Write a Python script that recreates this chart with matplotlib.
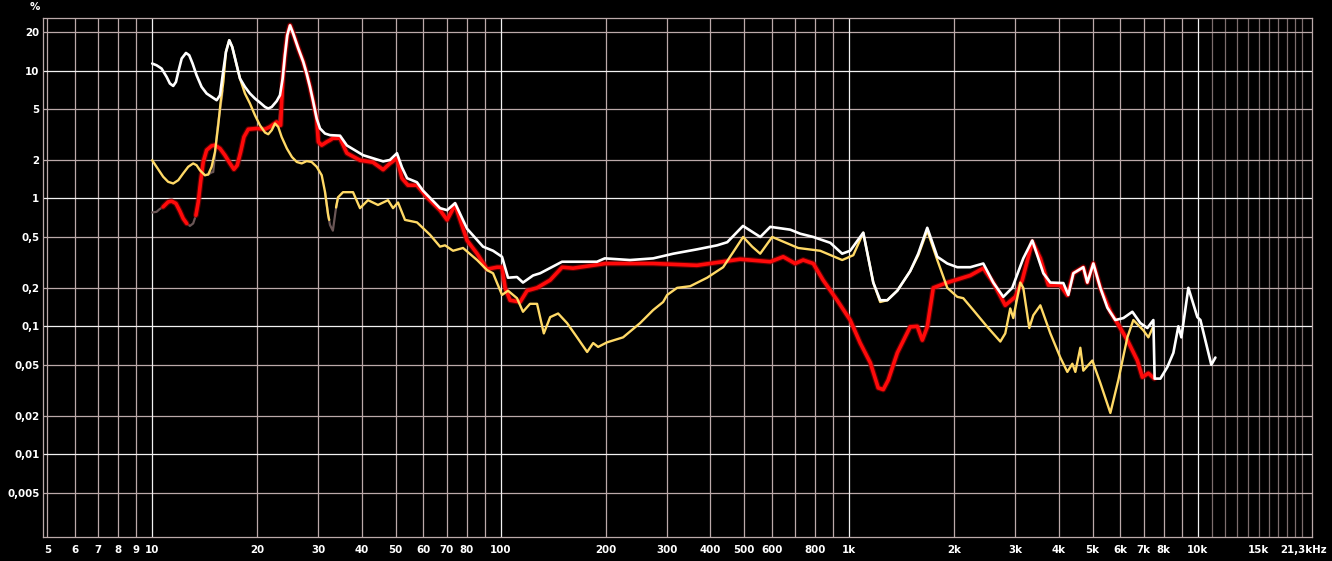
import numpy as np
import matplotlib.pyplot as plt
from matplotlib.ticker import NullLocator
from matplotlib.transforms import ScaledTranslation

nan = np.nan

# white curve (total)
white_f = [10.0, 10.29, 10.64, 11.0, 11.24, 11.49, 11.70, 11.88, 12.15, 12.5,
           12.77, 13.06, 13.41, 13.86, 14.33, 14.81, 15.31, 15.65, 15.93, 16.28,
           16.64, 16.97, 17.39, 17.86, 18.46, 19.08, 19.72, 20.38, 21.07, 21.53,
           22.03, 22.76, 23.26, 23.68, 24.04, 24.41, 24.86, 25.39, 26.26, 27.14,
           27.75, 28.37, 28.99, 29.65, 30.31, 31.32, 32.38,
           34.6, 36.2, 40.3, 46.0, 48.1, 50.4, 52.1, 53.9, 57.5, 59.9, 67.0, 70.2, 74.0, 80.1, 89.0,
           95.1, 100.9, 105.0, 111.4, 115.9, 123.9, 129.8, 150, 189, 199, 235, 274, 313, 366, 418,
           447, 496, 556, 594, 678, 724, 789, 883, 955, 1007, 1098, 1173, 1228, 1287, 1375, 1497,
           1579, 1676, 1791, 1913, 2044, 2227, 2427, 2593, 2770, 2939, 3161, 3355, 3609, 3780,
           4119, 4257, 4400, 4700, 4826, 5022, 5260, 5509, 5808, 6124, 6499, 6852, 7177, 7466,
           7530, 7821, 8190, 8522, 8808, 8984, 9410, 9987, 10190, 10950, 11250]
white_v = [11.36, 11.02, 10.38, 8.93, 7.93, 7.59, 8.16, 9.77, 12.43, 13.75,
           13.2, 11.36, 9.2, 7.46, 6.62, 6.23, 5.87, 6.42, 9.2, 14.0,
           17.29, 15.32, 11.7, 8.68, 7.46, 6.62, 6.05, 5.63, 5.2, 5.05,
           5.2, 5.77, 6.42, 8.68, 13.2, 18.9, 22.6, 19.5, 14.9, 11.7,
           9.49, 7.46, 5.69, 4.22, 3.53, 3.22, 3.13,
           3.1, 2.6, 2.18, 1.95, 2.0, 2.26, 1.75, 1.44, 1.34, 1.15, 0.84, 0.81, 0.92, 0.58, 0.42,
           0.39, 0.35, 0.24, 0.243, 0.22, 0.25, 0.26, 0.32, 0.32, 0.34, 0.33, 0.34, 0.37, 0.40, 0.43,
           0.455, 0.61, 0.50, 0.60, 0.57, 0.53, 0.50, 0.45, 0.37, 0.39, 0.54, 0.22, 0.16, 0.16, 0.19, 0.27,
           0.37, 0.59, 0.35, 0.31, 0.29, 0.29, 0.31, 0.22, 0.17, 0.20, 0.34, 0.47, 0.26, 0.22,
           0.218, 0.176, 0.26, 0.29, 0.22, 0.31, 0.20, 0.14, 0.112, 0.116, 0.13, 0.106, 0.097, 0.112,
           0.039, 0.039, 0.048, 0.062, 0.10, 0.082, 0.20, 0.118, 0.112, 0.05, 0.057]

# red curve
red_f = [10.75, 11.11, 11.37, 11.70, 12.01, 12.27, 12.56, nan, 13.35, 13.56,
         13.77, 14.01, 14.33, 14.81, 15.14, 15.65, 16.17, 16.72, 17.16, 17.54,
         17.94, 18.34, 18.87, 19.94, 21.07, 21.77, 22.76, 23.37, 23.68, 24.04,
         24.41, 24.86, 25.39, 26.26, 27.14, 27.75, 28.37, 28.99, 29.65, 29.98,
         30.65, 31.68, 32.38,
         33.0, 34.6, 36.2, 39.5, 43.0, 46.0, 48.1, 50.4, 52.1, 54.2, 57.5, 61.5, 67.0, 70.2, 74.0,
         80.1, 85.6, 91.4, 97.7, 100.9, 103.0, 106.4, 113.7, 119.1, 127.2, 138.7, 150.1, 161.4, 200,
         274, 366, 487, 594, 647, 700, 738, 789, 842, 924, 1007, 1076, 1150, 1212, 1253, 1295, 1375,
         1497, 1569, 1622, 1676, 1744, 1913, 2227, 2427, 2593, 2806, 2998, 3140, 3355, 3538, 3731,
         4038, 4229, 4400, 4700, 4826, 5022, 5260, 5620, 5886, 6288, 6718, 6943, 7225, 7516]
red_v = [0.86, 0.94, 0.953, 0.914, 0.796, 0.698, 0.638, nan, 0.74, 0.94,
         1.35, 1.93, 2.39, 2.58, 2.61, 2.46, 2.18, 1.88, 1.69, 1.82,
         2.31, 3.03, 3.48, 3.53, 3.48, 3.63, 3.97, 3.74, 8.68, 13.2,
         18.9, 22.6, 19.5, 14.9, 11.7, 9.49, 7.46, 5.69, 4.22, 2.77,
         2.61, 2.77, 2.86,
         2.96, 2.96, 2.26, 1.99, 1.92, 1.68, 1.88, 2.06, 1.44, 1.27, 1.27, 1.02, 0.81, 0.68, 0.89,
         0.47, 0.37, 0.28, 0.29, 0.29, 0.20, 0.16, 0.155, 0.19, 0.20, 0.23, 0.29, 0.285, 0.31,
         0.31, 0.30, 0.335, 0.32, 0.35, 0.31, 0.33, 0.31, 0.23, 0.16, 0.112, 0.074, 0.052, 0.033, 0.032, 0.038, 0.062,
         0.099, 0.10, 0.078, 0.099, 0.20, 0.22, 0.25, 0.285, 0.22, 0.146, 0.17, 0.23, 0.46, 0.34, 0.21,
         0.21, 0.175, 0.26, 0.29, 0.22, 0.31, 0.20, 0.13, 0.106, 0.078, 0.054, 0.040, 0.043, 0.039]

# yellow curve
yellow_f = [10.0, 10.29, 10.75, 11.11, 11.49, 11.88, 12.27, 12.69, 13.11, 13.41,
            13.71, 14.17, 14.48, 14.81, 15.14, 15.47, 15.72, 16.0, 16.28, 16.64,
            16.97, 17.39, 17.86, 18.46, 19.08, 19.72, 20.38, 21.07, 21.53, 22.03,
            22.51, 23.0, 23.52, 24.35, 25.18, 26.0, 26.85, 27.75, 28.67, 29.65,
            30.65, 31.32, 31.99, 32.2, nan, 33.7, 34.14,
            35.28, 37.7, 39.48, 41.62, 44.46, 47.51, 49.11, 50.75, 53.15, 57.54, 62.71, 66.99, 69.24,
            73.01, 78.0, 85.58, 91.42, 95.11, 100.9, 105.0, 111.4, 115.9, 121.4, 127.2, 133.0, 138.7,
            146.2, 155.1, 165.7, 177.1, 184.3, 190.4, 202.1, 224.6, 251.3, 273.9, 292.6, 300.5, 320.9,
            349.9, 391.3, 435.0, 464.7, 496.4, 527.0, 555.6, 601.5, 646.9, 714.4, 826.0, 955.4, 1028,
            1098, 1173, 1228, 1287, 1375, 1497, 1579, 1676, 1791, 1913, 2044, 2126, 2272, 2492, 2716,
            2806, 2900, 2959, 3099, 3161, 3289, 3377, 3538, 3780, 4038, 4229, 4371, 4459, 4608, 4700,
            4989, 5260, 5620, 5924, 6288, 6542, 6990, 7225, 7466]
yellow_v = [1.99, 1.77, 1.48, 1.35, 1.31, 1.39, 1.57, 1.77, 1.88, 1.82,
            1.66, 1.52, 1.54, 1.77, 2.31, 3.74, 5.69, 8.16, 14.0, 17.29,
            15.32, 11.7, 8.68, 6.62, 5.53, 4.48, 3.74, 3.28, 3.18, 3.42,
            3.86, 3.63, 3.03, 2.46, 2.11, 1.93, 1.88, 1.96, 1.93, 1.77,
            1.52, 1.13, 0.74, 0.68, nan, 0.85, 1.02,
            1.12, 1.12, 0.84, 0.97, 0.89, 0.97, 0.84, 0.93, 0.68, 0.65, 0.52, 0.42, 0.43,
            0.39, 0.41, 0.33, 0.275, 0.26, 0.176, 0.19, 0.166, 0.13, 0.15, 0.15, 0.088, 0.118,
            0.126, 0.106, 0.082, 0.063, 0.074, 0.069, 0.075, 0.082, 0.106, 0.134, 0.155, 0.176, 0.2,
            0.206, 0.24, 0.29, 0.38, 0.5, 0.42, 0.37, 0.5, 0.46, 0.41, 0.39, 0.33, 0.36,
            0.54, 0.22, 0.155, 0.16, 0.19, 0.27, 0.36, 0.56, 0.33, 0.2, 0.17, 0.166, 0.134, 0.099, 0.076,
            0.088, 0.138, 0.116, 0.22, 0.2, 0.097, 0.122, 0.146, 0.088, 0.057, 0.044, 0.051, 0.044, 0.068, 0.045,
            0.054, 0.036, 0.021, 0.038, 0.082, 0.112, 0.093, 0.082, 0.1]

# dim grey curve, only visible where it leaves the others
grey_f = [10.0, 10.29, 10.5, 10.75, 11.11, 11.37, 11.70, 12.01, 12.27, 12.56,
          12.83, 13.11, 13.35, 13.56, 13.77, 13.9, 14.17, 14.48, 14.81, 14.97,
          15.4, 15.83, 15.93, nan, 22.51, 23.0, 23.68, 24.04, nan,
          31.32, 31.99, 32.38, 33.0, 33.6, 34.14]
grey_v = [0.777, 0.786, 0.825, 0.86, 0.94, 0.953, 0.914, 0.796, 0.698, 0.638,
          0.61, 0.638, 0.74, 0.94, 1.35, 1.6, 1.52, 1.54, 1.6, 1.61,
          3.6, 6.05, 7.0, nan, 3.86, 3.74, 6.42, 13.2, nan,
          1.13, 0.74, 0.62, 0.56, 0.8, 1.02]

x_ticks = [5, 6, 7, 8, 9, 10, 20, 30, 40, 50, 60, 70, 80, 100, 200, 300, 400, 500, 600, 800,
           1000, 2000, 3000, 4000, 5000, 6000, 7000, 8000, 10000, 15000, 21300]
x_labels = ['5', '6', '7', '8', '9', '10', '20', '30', '40', '50', '60', '70', '80', '100', '200',
            '300', '400', '500', '600', '800', '1k', '2k', '3k', '4k', '5k', '6k', '7k', '8k', '10k',
            '15k', '21,3kHz']
y_ticks = [20, 10, 5, 2, 1, 0.5, 0.2, 0.1, 0.05, 0.02, 0.01, 0.005]
y_labels = ['20', '10', '5', '2', '1', '0,5', '0,2', '0,1', '0,05', '0,02', '0,01', '0,005']

pink = '#bba9a9'
W, H = 1332, 561
fig = plt.figure(figsize=(W / 100, H / 100), dpi=100, facecolor='black')
ax = fig.add_axes([43 / W, 24 / H, 1269 / W, 519 / H])
ax.set_facecolor('black')
ax.set_xscale('log')
ax.set_yscale('log')
ax.set_xlim(4.86, 21300)
ax.set_ylim(0.00225, 25.8)

# grid
for d in [1, 10, 100, 1000]:
    for m in range(2, 10):
        if d == 1 and m < 5:
            continue
        ax.axvline(m * d, color=pink, lw=0.9, zorder=1)
    ax.axvline(10 * d, color='#f2f2f2', lw=0.9, zorder=1.5)
for m in range(11, 21):
    ax.axvline(m * 1000, color='#7d6e6e', lw=0.9, zorder=1)
for v in [20, 5, 2, 0.5, 0.2, 0.05, 0.02, 0.005]:
    ax.axhline(v, color=pink, lw=0.9, zorder=1)
for v in [10, 1, 0.1, 0.01]:
    ax.axhline(v, color='#f2f2f2', lw=0.9, zorder=1.5)
for s in ax.spines.values():
    s.set_color(pink)
    s.set_linewidth(0.9)

# curves
kw = dict(solid_joinstyle='round', solid_capstyle='round')
ax.plot(grey_f, grey_v, color='#6a5656', lw=1.6, zorder=3, **kw)
ax.plot(red_f, red_v, color='#8a0000', lw=4.2, alpha=0.6, zorder=4, **kw)
ax.plot(red_f, red_v, color='#ff0a0a', lw=2.6, zorder=4.5, **kw)
ax.plot(yellow_f, yellow_v, color='#ffd966', lw=1.7, zorder=5, **kw)
ax.plot(white_f, white_v, color='#ffffff', lw=1.9, zorder=6, **kw)

# ticks
ax.xaxis.set_minor_locator(NullLocator())
ax.yaxis.set_minor_locator(NullLocator())
ax.set_xticks(x_ticks, x_labels)
ax.set_yticks(y_ticks, y_labels)
ax.tick_params(axis='both', length=0, labelcolor='white', labelsize=7.4)
ax.tick_params(axis='x', pad=6)
ax.tick_params(axis='y', pad=2.5)
for lab in ax.get_xticklabels() + ax.get_yticklabels():
    lab.set_fontweight('bold')
last = ax.get_xticklabels()[-1]
last.set_horizontalalignment('right')
last.set_transform(last.get_transform() + ScaledTranslation(0.15, 0, fig.dpi_scale_trans))

fig.text(35 / W, 1 - 7 / H, '%', color='white', fontsize=7.4, fontweight='bold',
         ha='center', va='center')

fig.savefig('out.png', dpi=100, facecolor='black')
